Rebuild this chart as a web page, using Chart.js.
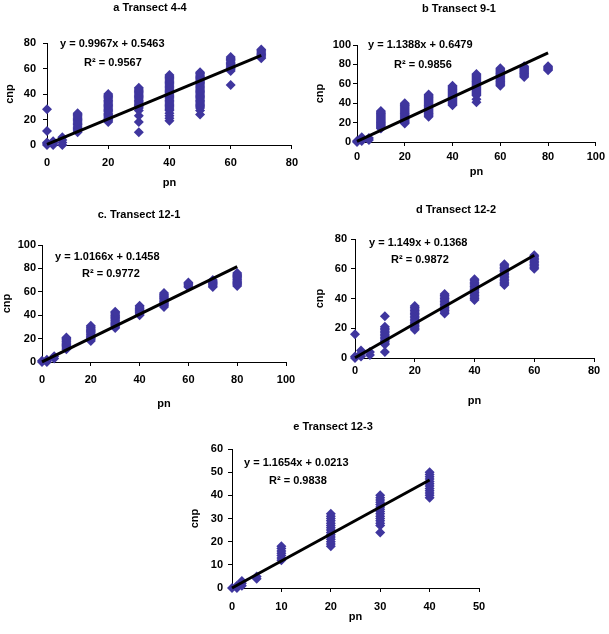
<!DOCTYPE html>
<html lang="en">
<head>
<meta charset="UTF-8">
<title>cnp vs pn by transect</title>
<script src="https://cdn.jsdelivr.net/npm/chart.js@4.4.1/dist/chart.umd.min.js"></script>
<style>
    body { margin: 0; background: #fff; width: 609px; height: 634px; position: relative; overflow: hidden; }
    .panel { position: absolute; }
    canvas { display: block; }
</style>
</head>
<body>
<div class="panel" id="pa"><canvas id="ca"></canvas></div>
<div class="panel" id="pb"><canvas id="cb"></canvas></div>
<div class="panel" id="pc"><canvas id="cc"></canvas></div>
<div class="panel" id="pd"><canvas id="cd"></canvas></div>
<div class="panel" id="pe"><canvas id="ce"></canvas></div>
<script>
// pn values of each transect, and the cnp readings stacked on each of them
const aPn = [0, 2, 5, 10, 20, 30, 40, 50, 60, 70];
const aCnp = [
    [0, 1, 2, 11, 28],
    [0, 1, 2, 3],
    [0, 2, 4, 6],
    [10, 11, 12, 13, 14, 15, 16, 17, 18, 19, 20, 21, 22, 23, 24, 25],
    [18, 19, 20, 21, 22, 23, 24, 25, 26, 27, 28, 29, 30, 31, 32, 33, 34, 35, 36, 37, 38, 39, 40],
    [10, 18, 23, 27, 29, 30, 31, 32, 33, 34, 35, 36, 37, 38, 39, 40, 41, 42, 43, 44, 45],
    [19, 21, 23, 25, 27, 28, 29, 30, 31, 32, 33, 34, 35, 36, 37, 38, 39, 40, 41, 42, 43, 44, 45, 46, 47, 48, 49, 50, 51, 52, 53, 54, 55],
    [24, 27, 29, 30, 31, 32, 33, 34, 35, 36, 37, 38, 39, 40, 41, 42, 43, 44, 45, 46, 47, 48, 49, 50, 51, 52, 53, 54, 55, 56, 57],
    [47, 58, 59, 60, 61, 62, 63, 64, 65, 66, 67, 68, 69],
    [68, 69, 70, 71, 72, 73, 74, 75]
];
const aTrend = [[0, 0.55], [70, 70.3]];

const bPn = [0, 2, 5, 10, 20, 30, 40, 50, 60, 70, 80];
const bCnp = [
    [0, 1],
    [1, 3, 5],
    [2, 4],
    [14, 15, 16, 17, 18, 19, 20, 21, 22, 23, 24, 25, 26, 27, 28, 29, 30, 31, 32],
    [19, 20, 21, 22, 23, 24, 25, 26, 27, 28, 29, 30, 31, 32, 33, 34, 35, 36, 37, 38, 39, 40],
    [26, 27, 28, 29, 30, 31, 32, 33, 34, 35, 36, 37, 38, 39, 40, 41, 42, 43, 44, 45, 46, 47, 48, 49],
    [38, 39, 40, 41, 42, 43, 44, 45, 46, 47, 48, 49, 50, 51, 52, 53, 54, 55, 56, 57, 58],
    [41, 44, 48, 49, 50, 51, 52, 53, 54, 55, 56, 57, 58, 59, 60, 61, 62, 63, 64, 65, 66, 67, 68, 69, 70],
    [58, 59, 60, 61, 62, 63, 64, 65, 66, 67, 68, 69, 70, 71, 72, 73, 74, 75, 76],
    [67, 68, 69, 70, 71, 72, 73, 74, 75, 76, 77, 78],
    [74, 75, 76, 77, 78]
];
const bTrend = [[0, 0.65], [80, 91.8]];

const cPn = [0, 2, 5, 10, 20, 30, 40, 50, 60, 70, 80];
const cCnp = [
    [0, 1],
    [0, 1, 2],
    [3, 5],
    [11, 12, 13, 14, 15, 16, 17, 18, 19, 20, 21],
    [18, 19, 20, 21, 22, 23, 24, 25, 26, 27, 28, 29, 30, 31],
    [29, 30, 31, 32, 33, 34, 35, 36, 37, 38, 39, 40, 41, 42, 43],
    [40, 41, 42, 43, 44, 45, 46, 47, 48],
    [47, 48, 49, 50, 51, 52, 53, 54, 55, 56, 57, 58, 59],
    [64, 65, 66, 67, 68],
    [64, 65, 66, 67, 68, 69, 70],
    [65, 66, 67, 68, 69, 70, 71, 72, 73, 74, 75, 76]
];
const cTrend = [[0, 0.15], [80, 81.5]];

const dPn = [0, 2, 5, 10, 20, 30, 40, 50, 60];
const dCnp = [
    [0, 1, 16],
    [1, 3, 5],
    [2, 4],
    [4, 9, 10, 11, 12, 13, 14, 15, 16, 17, 18, 19, 20, 21, 28],
    [19, 20, 21, 22, 23, 24, 25, 26, 27, 28, 29, 30, 31, 32, 33, 34, 35],
    [30, 31, 32, 33, 34, 35, 36, 37, 38, 39, 40, 41, 42, 43],
    [39, 40, 41, 42, 43, 44, 45, 46, 47, 48, 49, 50, 51, 52, 53],
    [49, 50, 51, 52, 53, 54, 55, 56, 57, 58, 59, 60, 61, 62, 63],
    [60, 61, 62, 63, 64, 65, 66, 67, 68, 69]
];
const dTrend = [[0, 0.14], [60, 69.1]];

const ePn = [0, 1, 2, 5, 10, 20, 30, 40];
const eCnp = [
    [0],
    [0, 1],
    [1, 2, 3],
    [4, 5],
    [12, 13, 14, 15, 16, 17, 18],
    [18, 19, 20, 21, 22, 23, 24, 25, 26, 27, 28, 29, 30, 31, 32],
    [24, 27, 28, 29, 30, 31, 32, 33, 34, 35, 36, 37, 38, 39, 40],
    [39, 40, 41, 42, 43, 44, 45, 46, 47, 48, 49, 50]
];
const eTrend = [[0, 0.02], [40, 46.6]];

// axis ranges: [max, step]
const aX = [80, 20], aY = [80, 20];
const bX = [100, 20], bY = [100, 20];
const cX = [100, 20], cY = [100, 20];
const dX = [80, 20], dY = [80, 10];
const eX = [50, 10], eY = [60, 10];

const FONT = '"Liberation Sans", Arial, sans-serif';
const MARK = '#3f369e';

// where each panel sits on the page (page coordinates)
const panels = [
    { id: 'a', pn: aPn, cnp: aCnp, trend: aTrend, xr: aX, yr: aY,
      title: 'a Transect 4-4', eq: 'y = 0.9967x + 0.5463', r2: 'R\u00b2 = 0.9567',
      box: [0, 0, 305, 192], plot: [47, 43, 295, 145], xPad: 7, yPad: 7, yTitlePad: 3,
      titlePos: [150, 8], eqPos: [60, 44], r2Pos: [84, 63] },
    { id: 'b', pn: bPn, cnp: bCnp, trend: bTrend, xr: bX, yr: bY,
      title: 'b Transect 9-1', eq: 'y = 1.1388x + 0.6479', r2: 'R\u00b2 = 0.9856',
      box: [305, 0, 304, 181], plot: [357, 45, 598, 142], xPad: 4, yPad: 2, yTitlePad: 8,
      titlePos: [459, 9], eqPos: [368, 45], r2Pos: [394, 65] },
    { id: 'c', pn: cPn, cnp: cCnp, trend: cTrend, xr: cX, yr: cY,
      title: 'c. Transect 12-1', eq: 'y = 1.0166x + 0.1458', r2: 'R\u00b2 = 0.9772',
      box: [0, 200, 305, 213], plot: [42, 245, 286, 362], xPad: 7, yPad: 2, yTitlePad: 0,
      titlePos: [139, 215], eqPos: [55, 257], r2Pos: [82, 274] },
    { id: 'd', pn: dPn, cnp: dCnp, trend: dTrend, xr: dX, yr: dY,
      title: 'd Transect 12-2', eq: 'y = 1.149x + 0.1368', r2: 'R\u00b2 = 0.9872',
      box: [305, 200, 304, 210], plot: [355, 239, 594, 358], xPad: 2, yPad: 4, yTitlePad: 8,
      titlePos: [456, 210], eqPos: [369, 243], r2Pos: [391, 260] },
    { id: 'e', pn: ePn, cnp: eCnp, trend: eTrend, xr: eX, yr: eY,
      title: 'e Transect 12-3', eq: 'y = 1.1654x + 0.0213', r2: 'R\u00b2 = 0.9838',
      box: [180, 410, 320, 216], plot: [232, 449, 479, 588], xPad: 8, yPad: 5, yTitlePad: 8,
      titlePos: [333, 427], eqPos: [244, 463], r2Pos: [269, 481] }
];

const textPlugin = {
    id: 'panelText',
    afterDraw(chart, args, opts) {
        const ctx = chart.ctx;
        ctx.save();
        ctx.fillStyle = '#000';
        ctx.textBaseline = 'middle';
        ctx.font = 'bold 11px ' + FONT;
        ctx.textAlign = 'center';
        ctx.fillText(opts.title, opts.titlePos[0], opts.titlePos[1]);
        ctx.textAlign = 'left';
        ctx.fillText(opts.eq, opts.eqPos[0], opts.eqPos[1]);
        ctx.fillText(opts.r2, opts.r2Pos[0], opts.r2Pos[1]);
        ctx.restore();
    }
};

function toPoints(xs, ys) {
    const out = [];
    xs.forEach((x, i) => ys[i].forEach(y => out.push({ x: x, y: y })));
    return out;
}

panels.forEach(p => {
    const [left, top, w, h] = p.box;
    const [pl, pt, pr, pb] = p.plot;
    const div = document.getElementById('p' + p.id);
    div.style.left = left + 'px';
    div.style.top = top + 'px';
    const canvas = document.getElementById('c' + p.id);
    canvas.width = w;
    canvas.height = h;
    canvas.style.width = w + 'px';
    canvas.style.height = h + 'px';

    const local = pos => [pos[0] - left, pos[1] - top];
    const tickFont = { family: FONT, size: 11, weight: 'bold' };

    new Chart(canvas, {
        type: 'scatter',
        data: {
            datasets: [
                {
                    type: 'line',
                    data: p.trend.map(t => ({ x: t[0], y: t[1] })),
                    borderColor: '#000',
                    borderWidth: 3,
                    pointRadius: 0,
                    clip: false
                },
                {
                    data: toPoints(p.pn, p.cnp),
                    pointStyle: 'rectRot',
                    pointRadius: 5,
                    backgroundColor: MARK,
                    borderColor: MARK,
                    borderWidth: 0,
                    clip: false
                }
            ]
        },
        options: {
            responsive: false,
            animation: false,
            devicePixelRatio: 1,
            layout: { padding: { left: 0, top: pt - top, right: left + w - pr, bottom: 0 } },
            plugins: {
                legend: { display: false },
                tooltip: { enabled: false },
                panelText: {
                    title: p.title, eq: p.eq, r2: p.r2,
                    titlePos: local(p.titlePos), eqPos: local(p.eqPos), r2Pos: local(p.r2Pos)
                }
            },
            scales: {
                x: {
                    type: 'linear',
                    min: 0, max: p.xr[0],
                    ticks: { stepSize: p.xr[1], padding: p.xPad, color: '#000', font: tickFont, maxRotation: 0 },
                    grid: { drawOnChartArea: false, tickLength: 4, color: '#000' },
                    border: { color: '#000', width: 1 },
                    title: { display: true, text: 'pn', color: '#000', font: tickFont, padding: { top: 0, bottom: 2 } },
                    afterFit: s => { s.height = top + h - pb; }
                },
                y: {
                    type: 'linear',
                    min: 0, max: p.yr[0],
                    ticks: { stepSize: p.yr[1], padding: p.yPad, color: '#000', font: tickFont },
                    grid: { drawOnChartArea: false, tickLength: 4, color: '#000' },
                    border: { color: '#000', width: 1 },
                    title: { display: true, text: 'cnp', color: '#000', font: tickFont, padding: { top: p.yTitlePad, bottom: 0 } },
                    afterFit: s => { s.width = pl - left; }
                }
            }
        },
        plugins: [textPlugin]
    });
});
</script>
</body>
</html>
